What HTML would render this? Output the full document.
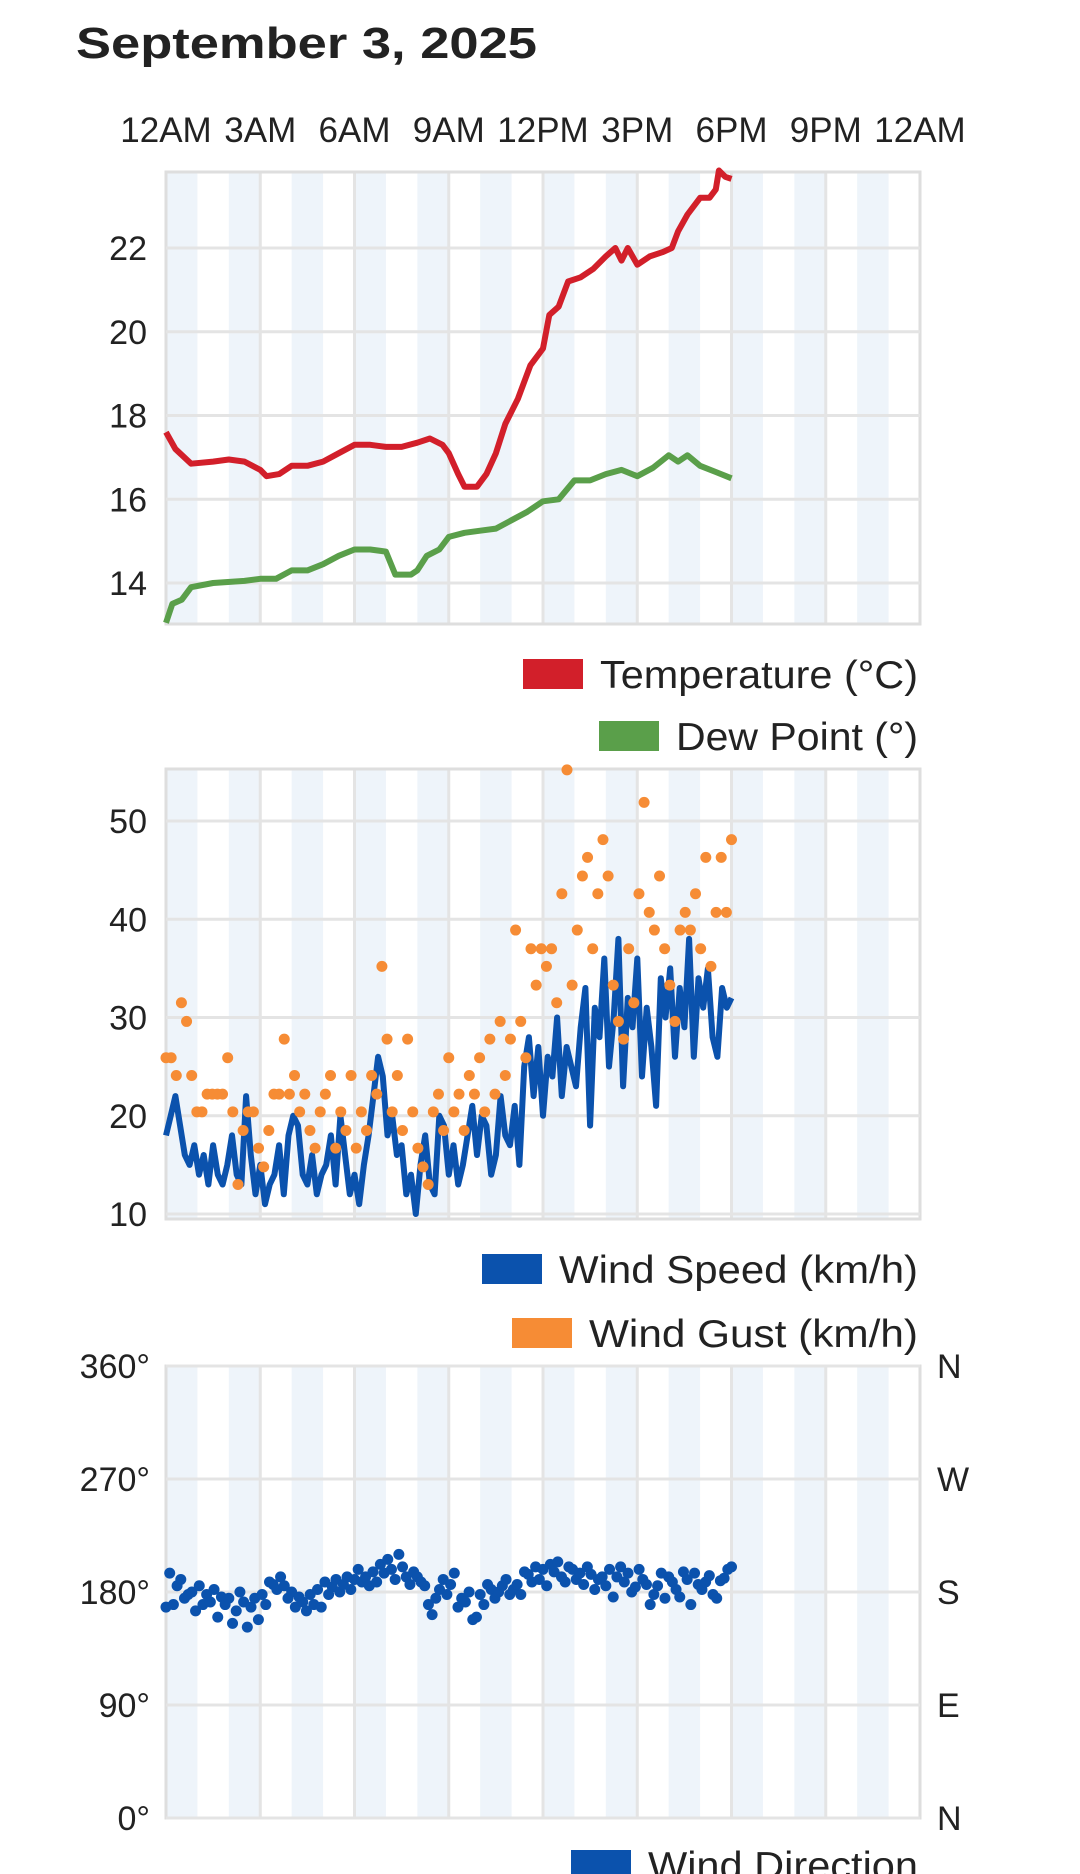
<!DOCTYPE html>
<html><head><meta charset="utf-8">
<style>
html,body{margin:0;padding:0;background:#fff;width:1080px;height:1874px;overflow:hidden}
svg{display:block;font-family:"Liberation Sans",sans-serif}
</style></head>
<body>
<svg id="root" width="1080" height="1874" viewBox="0 0 1080 1874">
<text x="76" y="58" font-size="44" font-weight="bold" fill="#222" textLength="461" lengthAdjust="spacingAndGlyphs">September 3, 2025</text>
</svg>
<script>
const hourLabels = ["12AM","3AM","6AM","9AM","12PM","3PM","6PM","9PM","12AM"];
const tempTimes = [0,0.3,0.8,1.5,2,2.5,3,3.2,3.6,4,4.5,5,5.5,6,6.5,7,7.5,8,8.4,8.8,9,9.3,9.5,9.9,10.2,10.5,10.8,11.2,11.6,12,12.2,12.5,12.8,13.2,13.6,14,14.3,14.5,14.7,15,15.4,15.8,16.1,16.3,16.6,17,17.3,17.5,17.6,17.8,18];
const tempValues = [17.6,17.2,16.85,16.9,16.95,16.9,16.7,16.55,16.6,16.8,16.8,16.9,17.1,17.3,17.3,17.25,17.25,17.35,17.45,17.3,17.1,16.6,16.3,16.3,16.6,17.1,17.8,18.4,19.2,19.6,20.4,20.6,21.2,21.3,21.5,21.8,22.0,21.7,22.0,21.6,21.8,21.9,22.0,22.4,22.8,23.2,23.2,23.4,23.85,23.7,23.65];
const dewTimes = [0,0.2,0.5,0.8,1.5,2.5,3,3.5,4,4.5,5,5.5,6,6.5,7,7.3,7.8,8,8.3,8.7,9,9.5,10,10.5,11,11.5,12,12.5,13,13.5,14,14.5,15,15.5,16,16.3,16.6,17,17.5,18];
const dewValues = [13.05,13.5,13.6,13.9,14.0,14.05,14.1,14.1,14.3,14.3,14.45,14.65,14.8,14.8,14.75,14.2,14.2,14.3,14.65,14.8,15.1,15.2,15.25,15.3,15.5,15.7,15.95,16.0,16.45,16.45,16.6,16.7,16.55,16.75,17.05,16.9,17.05,16.8,16.65,16.5];
const tempTicks = [14,16,18,20,22];
const windSpeed = [18,20,22,19,16,15,17,14,16,13,17,14,13,15,18,14,13,22,16,12,15,11,13,14,17,12,18,20,19,14,13,16,12,14,15,18,13,20,16,12,14,11,15,18,22,26,24,18,20,16,17,12,14,10,15,18,13,12,20,19,14,17,13,15,18,21,16,20,19,14,16,22,18,17,21,15,25,28,22,27,20,26,24,30,22,27,25,23,29,33,19,31,28,36,25,30,38,23,32,29,36,24,31,27,21,34,30,35,26,33,29,38,26,34,31,35,28,26,33,31,32];
const windGust = [25.9,25.9,24.1,31.5,29.6,24.1,20.4,20.4,22.2,22.2,22.2,22.2,25.9,20.4,13,18.5,20.4,20.4,16.7,14.8,18.5,22.2,22.2,27.8,22.2,24.1,20.4,22.2,18.5,16.7,20.4,22.2,24.1,16.7,20.4,18.5,24.1,16.7,20.4,18.5,24.1,22.2,35.2,27.8,20.4,24.1,18.5,27.8,20.4,16.7,14.8,13,20.4,22.2,18.5,25.9,20.4,22.2,18.5,24.1,22.2,25.9,20.4,27.8,22.2,29.6,24.1,27.8,38.9,29.6,25.9,37,33.3,37,35.2,37,31.5,42.6,55.2,33.3,38.9,44.4,46.3,37,42.6,48.1,44.4,33.3,29.6,27.8,37,31.5,42.6,51.9,40.7,38.9,44.4,37,33.3,29.6,38.9,40.7,38.9,42.6,37,46.3,35.2,40.7,46.3,40.7,48.1];
const windDir = [168,195,170,185,190,175,178,180,165,185,170,178,172,182,160,176,170,175,155,165,180,172,152,168,175,158,178,170,188,186,182,192,185,175,180,168,176,172,165,178,170,182,168,188,178,184,190,180,186,192,182,190,198,188,192,185,196,188,202,195,206,198,190,210,200,192,186,196,192,188,185,170,162,175,182,190,178,186,195,168,175,172,180,158,160,178,170,186,182,175,180,185,190,178,182,186,178,196,194,188,200,190,198,185,202,196,204,192,188,200,198,190,195,186,200,194,182,190,192,185,198,176,192,200,188,195,180,184,198,190,186,170,178,185,195,175,192,188,182,176,196,190,170,195,186,182,188,193,178,175,189,191,198,200];
const dirTicks = [0,90,180,270,360];
const dirLabels = ["N","E","S","W","N"];
const speedTicks = [10,20,30,40,50];

const NS = "http://www.w3.org/2000/svg";
const root = document.getElementById('root');
const X0 = 166, X1 = 920;
const xs = h => X0 + (X1 - X0) * h / 24;
function mk(tag, attrs, parent){ const e = document.createElementNS(NS, tag); for (const k in attrs) e.setAttribute(k, attrs[k]); (parent||root).appendChild(e); return e; }

hourLabels.forEach((l,i)=>{
  const t = mk('text',{x:xs(i*3),y:142,'font-size':35,'text-anchor':'middle',fill:'#222'});
  
  
  t.textContent = l;
});

function frame(top, bottom, name){
  const g = mk('g',{});
  
  
  for (let h=0; h<24; h+=2){
    const r = mk('rect',{x:xs(h),y:top,width:xs(1)-X0,height:bottom-top,fill:'#eef4fa'},g);
    
    
  }
  for (let h=3; h<24; h+=3){
    const l = mk('line',{x1:xs(h),x2:xs(h),y1:top,y2:bottom,stroke:'#e4e4e4','stroke-width':3},g);
    
    
  }
  const b = mk('rect',{x:X0,y:top,width:X1-X0,height:bottom-top,fill:'none',stroke:'#dedede','stroke-width':3},g);
  
  
  return g;
}
function hgrid(g, y, label, lx){
  const l = mk('line',{x1:X0,x2:X1,y1:y,y2:y,stroke:'#e4e4e4','stroke-width':3},g);
  
  
  const t = mk('text',{x:lx,y:y+12,'font-size':34,'text-anchor':'end',fill:'#222'});
  
  
  t.textContent = label;
}
function legend(sx, sy, color, label, name){
  const r = mk('rect',{x:sx,y:sy,width:60,height:30,fill:color});
  
  
  const t = mk('text',{x:sx+77,y:sy+29,'font-size':39,fill:'#222',textLength:918-sx-77,lengthAdjust:'spacingAndGlyphs'});
  
  
  t.textContent = label;
}
function polyline(times, vals, ys, color, name, w){
  const pts = times.map((h,i)=>xs(h).toFixed(1)+','+ys(vals[i]).toFixed(1)).join(' ');
  const p = mk('polyline',{points:pts,fill:'none',stroke:color,'stroke-width':w,'stroke-linejoin':'round'});
  
  
}

// Chart 1
const T_TOP=172, T_BOT=624;
const yT = v => 583 - (v-14)*(583-248)/8;
const g1 = frame(T_TOP, T_BOT, 'temperature-chart');
tempTicks.forEach(v=>hgrid(g1, yT(v), String(v), 147));
polyline(dewTimes, dewValues, yT, '#5a9f4a', 'dew-point-line', 6);
polyline(tempTimes, tempValues, yT, '#d21f2a', 'temperature-line', 6);
legend(523, 659, '#d21f2a', 'Temperature (°C)', 'legend-temperature');
legend(599, 721, '#5a9f4a', 'Dew Point (°)', 'legend-dew-point');

// Chart 2
const W_TOP=769, W_BOT=1219;
const yW = v => 1214 - (v-10)*(1214-821)/40;
const g2 = frame(W_TOP, W_BOT, 'wind-chart');
speedTicks.forEach(v=>hgrid(g2, yW(v), String(v), 147));
polyline(windSpeed.map((v,i)=>18*i/(windSpeed.length-1)), windSpeed, yW, '#0b52ad', 'wind-speed-line', 6);
windGust.forEach((v,i)=>{
  const c = mk('circle',{cx:xs(18*i/(windGust.length-1)),cy:yW(v),r:5.5,fill:'#f68c35'});
  
  
});
legend(482, 1254, '#0b52ad', 'Wind Speed (km/h)', 'legend-wind-speed');
legend(512, 1318, '#f68c35', 'Wind Gust (km/h)', 'legend-wind-gust');

// Chart 3
const D_TOP=1366, D_BOT=1818;
const yD = v => D_BOT - v*(D_BOT-D_TOP)/360;
const g3 = frame(D_TOP, D_BOT, 'wind-direction-chart');
dirTicks.forEach((v,i)=>{
  hgrid(g3, yD(v), v+'°', 150);
  const t = mk('text',{x:937,y:yD(v)+12,'font-size':34,fill:'#222'});
  
  
  t.textContent = dirLabels[i];
});
windDir.forEach((v,i)=>{
  const c = mk('circle',{cx:xs(18*i/(windDir.length-1)),cy:yD(v),r:5.5,fill:'#0b52ad'});
  
  
});
legend(571, 1850, '#0b52ad', 'Wind Direction', 'legend-wind-direction');
</script>
</body></html>
